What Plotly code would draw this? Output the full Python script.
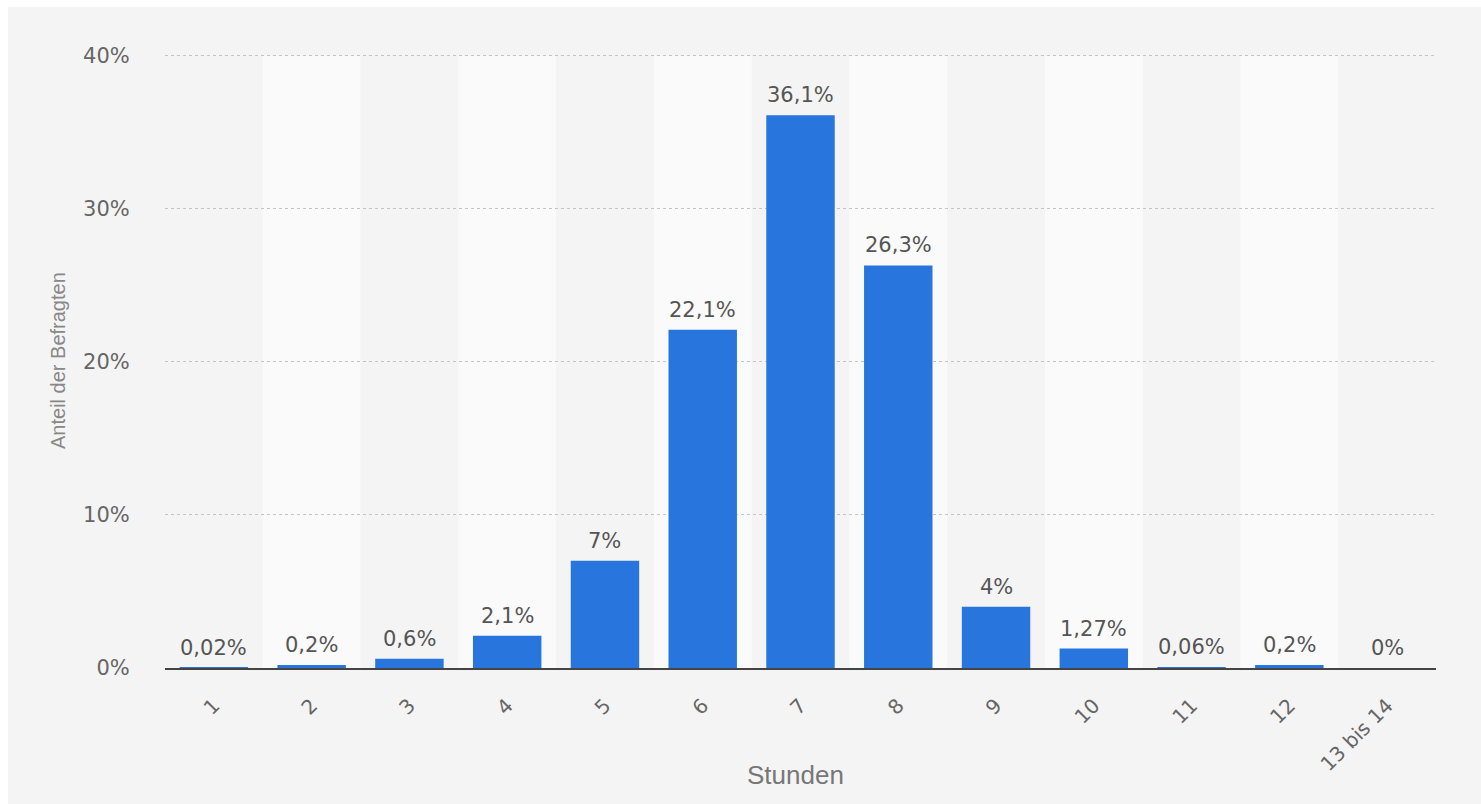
import plotly.graph_objects as go

# Schlafdauer pro Nacht – Anteil der Befragten je Stundenklasse
stunden = ["1", "2", "3", "4", "5", "6", "7", "8", "9", "10", "11", "12", "13 bis 14"]
anteil = [0.02, 0.2, 0.6, 2.1, 7, 22.1, 36.1, 26.3, 4, 1.27, 0.06, 0.2, 0]
y_ticks = [0, 10, 20, 30, 40]
y_tick_labels = ["0%", "10%", "20%", "30%", "40%"]
y_max = 40.5

W, H = 1481, 804
ML, MR, MT, MB = 165, 45, 48, 136
PW, PH = W - ML - MR, H - MT - MB


def px_x(p):
    return (p - ML) / PW


def px_y(p):
    return (H - MB - p) / PH


labels = [f"{v:g}".replace(".", ",") + "%" for v in anteil]

fig = go.Figure(
    go.Bar(
        x=stunden,
        y=anteil,
        marker=dict(color="#2876dd", line=dict(width=0)),
        hoverinfo="skip",
    )
)

shapes = []
# white strip along the top and left edges of the page
shapes.append(dict(type="rect", xref="paper", yref="paper",
                   x0=px_x(0), x1=px_x(W), y0=px_y(7), y1=px_y(-5),
                   fillcolor="white", line=dict(width=0), layer="below"))
shapes.append(dict(type="rect", xref="paper", yref="paper",
                   x0=px_x(-5), x1=px_x(8), y0=px_y(H + 5), y1=px_y(-5),
                   fillcolor="white", line=dict(width=0), layer="below"))
# lighter bands behind every second category
for i in range(1, len(stunden), 2):
    shapes.append(dict(type="rect", xref="x", yref="y",
                       x0=i - 0.5, x1=i + 0.5, y0=0, y1=y_ticks[-1],
                       fillcolor="#fafafa", line=dict(width=0), layer="below"))

# value labels above each bar (category index positions)
annotations = [
    dict(x=i, y=val, xref="x", yref="y", text=lab, showarrow=False,
         xanchor="center", yanchor="bottom", yshift=6,
         font=dict(family="DejaVu Sans", size=21, color="#555555"))
    for i, (val, lab) in enumerate(zip(anteil, labels))
]
annotations += [
    dict(text="Stunden", xref="paper", yref="paper",
         x=px_x(795), y=px_y(775), showarrow=False,
         xanchor="center", yanchor="middle",
         font=dict(family="Liberation Sans", size=26, color="#777777")),
    dict(text="Anteil der Befragten", xref="paper", yref="paper",
         x=px_x(58), y=px_y(361), showarrow=False, textangle=-90,
         xanchor="center", yanchor="middle",
         font=dict(family="Liberation Sans", size=20, color="#888888")),
]

fig.update_layout(
    width=W, height=H,
    margin=dict(l=ML, r=MR, t=MT, b=MB, autoexpand=False),
    paper_bgcolor="#f4f4f4",
    plot_bgcolor="rgba(0,0,0,0)",
    bargap=0.3,
    showlegend=False,
    shapes=shapes,
    xaxis=dict(
        type="category",
        tickangle=-45,
        tickfont=dict(family="DejaVu Sans", size=20, color="#666666"),
        ticks="outside", ticklen=16, tickcolor="rgba(0,0,0,0)",
        showgrid=False, zeroline=False,
        showline=True, linecolor="#444444", linewidth=2,
        automargin=False,
    ),
    yaxis=dict(
        range=[0, y_max],
        tickvals=y_ticks, ticktext=y_tick_labels,
        tickfont=dict(family="DejaVu Sans", size=21, color="#666666"),
        ticks="outside", ticklen=30, tickcolor="rgba(0,0,0,0)",
        showgrid=True, gridcolor="#c4c4c4", gridwidth=1, griddash="dot",
        zeroline=False, showline=False,
        automargin=False,
    ),
    annotations=annotations,
)

fig.write_html("out.html")
